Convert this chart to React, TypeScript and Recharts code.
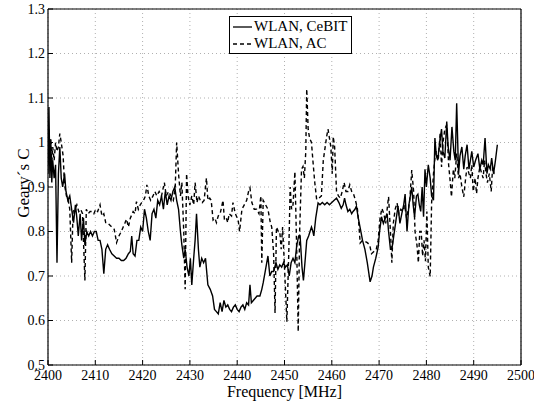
import React from "react";
import { LineChart, Line, XAxis, YAxis, CartesianGrid, Legend } from "recharts";

const xTicks = [2400, 2410, 2420, 2430, 2440, 2450, 2460, 2470, 2480, 2490, 2500];
const yTicks = [0.5, 0.6, 0.7, 0.8, 0.9, 1.0, 1.1, 1.2, 1.3];
const yTickLabels = ["0.5", "0.6", "0.7", "0.8", "0.9", "1", "1.1", "1.2", "1.3"];

const cebitName = "WLAN, CeBIT";
const acName = "WLAN, AC";

const cebitFreq = [
  2400.0, 2400.2, 2400.4, 2400.6, 2400.8, 2401.0, 2401.3, 2401.6, 2401.9, 2402.2,
  2402.5, 2402.8, 2403.1, 2403.5, 2403.8, 2404.2, 2404.6, 2405.0, 2405.4, 2405.8,
  2406.1, 2406.4, 2406.8, 2407.1, 2407.5, 2407.8, 2408.2, 2408.6, 2409.0, 2409.4,
  2409.8, 2410.2, 2410.6, 2411.0, 2411.4, 2411.8, 2412.2, 2412.6, 2413.0, 2413.5,
  2414.0, 2414.5, 2415.0, 2415.5, 2416.0, 2416.5, 2417.0, 2417.4, 2417.7, 2418.0,
  2418.4, 2418.8, 2419.2, 2419.6, 2420.0, 2420.4, 2420.8, 2421.2, 2421.6, 2422.0,
  2422.4, 2422.8, 2423.2, 2423.6, 2424.0, 2424.4, 2424.8, 2425.2, 2425.6, 2426.0,
  2426.4, 2426.8, 2427.2, 2427.6, 2428.0, 2428.3, 2428.7, 2429.0, 2429.4, 2429.8,
  2430.1, 2430.4, 2430.8, 2431.1, 2431.4, 2431.8, 2432.1, 2432.5, 2432.9, 2433.3,
  2433.8, 2434.3, 2434.8, 2435.2, 2435.6, 2436.0, 2436.4, 2436.8, 2437.2, 2437.6,
  2438.0, 2438.4, 2438.8, 2439.2, 2439.6, 2440.0, 2440.4, 2440.8, 2441.2, 2441.6,
  2442.0, 2442.4, 2442.7, 2443.0, 2443.4, 2443.8, 2444.2, 2444.8, 2445.2, 2445.5,
  2446.0, 2446.5, 2446.9, 2447.3, 2447.7, 2448.2, 2448.6, 2449.0, 2449.4, 2449.8,
  2450.2, 2450.6, 2451.0, 2451.4, 2451.8, 2452.2, 2452.6, 2453.0, 2453.3, 2453.7,
  2454.0, 2454.4, 2454.7, 2455.1, 2455.4, 2455.7, 2456.0, 2456.2, 2456.6, 2457.1,
  2457.5, 2458.0, 2458.5, 2459.0, 2459.5, 2460.0, 2460.5, 2461.0, 2461.5, 2462.0,
  2462.4, 2462.7, 2463.0, 2463.4, 2463.8, 2464.2, 2464.5, 2464.9, 2465.2, 2465.6,
  2466.0, 2466.5, 2467.0, 2467.5, 2468.1, 2468.5, 2468.8, 2469.3, 2469.8, 2470.1,
  2470.5, 2470.9, 2471.3, 2471.7, 2472.0, 2472.4, 2472.7, 2473.1, 2473.5, 2474.0,
  2474.4, 2474.8, 2475.2, 2475.5, 2475.9, 2476.3, 2476.6, 2476.9, 2477.2, 2477.5,
  2477.9, 2478.2, 2478.5, 2478.8, 2479.1, 2479.4, 2479.7, 2480.0, 2480.4, 2480.8,
  2481.1, 2481.5, 2481.8, 2482.1, 2482.4, 2482.8, 2483.2, 2483.5, 2483.9, 2484.3,
  2484.6, 2485.0, 2485.4, 2485.8, 2486.1, 2486.4, 2486.8, 2487.1, 2487.5, 2487.9,
  2488.2, 2488.6, 2489.0, 2489.3, 2489.6, 2490.0, 2490.4, 2490.9, 2491.3, 2491.7,
  2492.0, 2492.4, 2492.8, 2493.1, 2493.5, 2493.8, 2494.2, 2494.6, 2495.0,
];
const cebitVal = [
  0.93, 1.08, 0.92, 1.0, 0.91, 0.96, 0.92, 0.95, 0.73, 0.93,
  0.99, 0.92, 0.9, 0.93, 0.89, 0.87, 0.88, 0.85, 0.82, 0.86,
  0.83, 0.79, 0.84, 0.78, 0.83, 0.77, 0.8, 0.79, 0.8, 0.79,
  0.8, 0.8, 0.78, 0.78, 0.76, 0.705, 0.76, 0.77, 0.76, 0.75,
  0.745, 0.74, 0.74, 0.735, 0.735, 0.74, 0.75, 0.755, 0.79, 0.75,
  0.745, 0.78, 0.78, 0.81, 0.8, 0.85, 0.83, 0.8, 0.78, 0.84,
  0.85, 0.83, 0.87, 0.86, 0.88, 0.85, 0.89, 0.86, 0.88, 0.87,
  0.89, 0.9, 0.87, 0.85, 0.8, 0.77, 0.74, 0.76, 0.72, 0.7,
  0.74, 0.68, 0.74, 0.78, 0.84, 0.76, 0.72, 0.74, 0.73, 0.74,
  0.68, 0.67, 0.655, 0.625, 0.62, 0.615, 0.64, 0.62, 0.645, 0.63,
  0.635, 0.625, 0.62, 0.63, 0.635, 0.625, 0.62, 0.63, 0.635, 0.625,
  0.64, 0.635, 0.68, 0.64, 0.645, 0.65, 0.655, 0.655, 0.67, 0.685,
  0.715, 0.745, 0.7, 0.71, 0.71, 0.73, 0.715, 0.725, 0.72, 0.73,
  0.72, 0.725, 0.7, 0.73, 0.74, 0.73, 0.77, 0.79, 0.79, 0.72,
  0.69, 0.74, 0.78, 0.79, 0.8, 0.81, 0.8, 0.79, 0.83, 0.864,
  0.86, 0.865, 0.86, 0.865, 0.86, 0.865, 0.87, 0.875, 0.865, 0.852,
  0.86, 0.875, 0.86, 0.845, 0.85, 0.84, 0.845, 0.85, 0.857, 0.83,
  0.808, 0.78, 0.76, 0.73, 0.687, 0.7, 0.72, 0.74, 0.765, 0.8,
  0.833, 0.818, 0.83, 0.84, 0.8, 0.76, 0.76, 0.79, 0.82, 0.857,
  0.818, 0.84, 0.86, 0.884, 0.8, 0.86, 0.88, 0.9, 0.86, 0.833,
  0.88, 0.884, 0.86, 0.845, 0.9, 0.833, 0.94, 0.9, 0.95, 0.92,
  0.88, 0.87, 1.01, 0.97, 0.96, 1.0, 1.03, 0.98, 0.965, 1.047,
  0.99, 0.96, 1.035, 0.98, 0.96, 1.088, 0.93, 0.97, 0.99, 0.94,
  0.97, 0.995, 0.94, 0.96, 0.98, 0.945, 0.96, 0.975, 0.94, 0.96,
  0.95, 1.01, 0.93, 0.95, 0.94, 0.965, 0.93, 0.96, 0.995,
];

const acFreq = [
  2400.0, 2400.2, 2400.4, 2400.6, 2400.8, 2401.0, 2401.3, 2401.6, 2401.9, 2402.2,
  2402.5, 2402.8, 2403.2, 2403.5, 2403.9, 2404.2, 2404.6, 2405.0, 2405.3, 2405.7,
  2406.1, 2406.5, 2406.9, 2407.3, 2407.8, 2408.1, 2408.5, 2408.9, 2409.3, 2409.7,
  2410.1, 2410.5, 2411.0, 2411.4, 2411.8, 2412.2, 2412.6, 2413.0, 2413.5, 2414.0,
  2414.5, 2415.0, 2415.5, 2415.9, 2416.3, 2416.6, 2417.0, 2417.4, 2418.0, 2418.4,
  2418.7, 2419.1, 2419.5, 2419.8, 2420.2, 2420.6, 2420.9, 2421.3, 2421.7, 2422.2,
  2422.6, 2423.0, 2423.5, 2424.0, 2424.6, 2425.0, 2425.5, 2426.0, 2426.5, 2426.9,
  2427.2, 2427.6, 2428.0, 2428.3, 2428.7, 2429.0, 2429.3, 2429.6, 2430.0, 2430.4,
  2430.8, 2431.1, 2431.5, 2431.8, 2432.2, 2432.6, 2433.0, 2433.5, 2433.8, 2434.2,
  2434.5, 2434.9, 2435.3, 2435.6, 2436.0, 2436.4, 2437.0, 2437.3, 2437.7, 2438.0,
  2438.3, 2438.8, 2439.1, 2439.6, 2440.2, 2440.5, 2441.0, 2441.5, 2442.0, 2442.4,
  2442.7, 2443.1, 2443.6, 2444.1, 2444.6, 2445.0, 2445.2, 2445.5, 2446.0, 2446.5,
  2447.0, 2447.3, 2447.7, 2448.0, 2448.3, 2448.7, 2449.0, 2449.3, 2449.6, 2450.0,
  2450.5, 2450.9, 2451.2, 2451.5, 2451.8, 2452.2, 2452.6, 2452.9, 2453.2, 2453.6,
  2453.9, 2454.2, 2454.5, 2454.7, 2455.0, 2455.3, 2455.7, 2456.0, 2456.4, 2456.8,
  2457.3, 2457.8, 2458.2, 2458.6, 2458.9, 2459.2, 2459.5, 2459.8, 2460.1, 2460.3,
  2460.6, 2461.0, 2461.4, 2461.8, 2462.2, 2462.6, 2463.0, 2463.4, 2463.8, 2464.2,
  2464.6, 2465.0, 2465.4, 2465.7, 2466.0, 2466.5, 2467.0, 2467.5, 2468.0, 2468.4,
  2468.9, 2469.4, 2469.8, 2470.2, 2470.6, 2471.0, 2471.4, 2471.7, 2472.0, 2472.4,
  2472.7, 2473.0, 2473.4, 2473.8, 2474.2, 2474.6, 2475.0, 2475.4, 2475.8, 2476.2,
  2476.5, 2476.9, 2477.3, 2477.6, 2478.0, 2478.3, 2478.6, 2478.9, 2479.2, 2479.5,
  2479.8, 2480.1, 2480.4, 2480.8, 2481.1, 2481.5, 2481.8, 2482.1, 2482.5, 2482.9,
  2483.2, 2483.5, 2483.9, 2484.3, 2484.7, 2485.0, 2485.3, 2485.7, 2486.0, 2486.4,
  2486.8, 2487.1, 2487.5, 2487.9, 2488.3, 2488.6, 2489.0, 2489.3, 2489.6, 2489.9,
  2490.3, 2490.6, 2490.9, 2491.3, 2491.7, 2492.0, 2492.3, 2492.6, 2492.9, 2493.3,
  2493.7, 2494.0, 2494.3, 2494.6,
];
const acVal = [
  0.95, 1.03, 0.96, 1.01, 0.95, 0.99, 0.96, 1.0, 0.98, 0.99,
  1.02, 1.0, 0.97, 0.905, 0.88, 0.875, 0.85, 0.73, 0.845, 0.85,
  0.86, 0.845, 0.85, 0.84, 0.69, 0.85, 0.84, 0.845, 0.845, 0.84,
  0.85, 0.845, 0.86, 0.835, 0.84, 0.82, 0.82, 0.815, 0.81, 0.805,
  0.775, 0.79, 0.8, 0.81, 0.82, 0.828, 0.81, 0.83, 0.845, 0.84,
  0.867, 0.85, 0.86, 0.865, 0.87, 0.88, 0.905, 0.88, 0.87, 0.88,
  0.89, 0.88, 0.89, 0.88, 0.91, 0.88, 0.89, 0.88, 0.87, 0.9,
  1.0, 0.93, 0.88, 0.91, 0.8, 0.67, 0.93, 0.88, 0.86, 0.88,
  0.86, 0.91, 0.865, 0.88, 0.87, 0.865, 0.87, 0.92, 0.87, 0.875,
  0.87, 0.826, 0.83, 0.82, 0.835, 0.84, 0.87, 0.826, 0.83, 0.82,
  0.84, 0.835, 0.865, 0.84, 0.826, 0.8, 0.85, 0.86, 0.87, 0.89,
  0.898, 0.865, 0.85, 0.85, 0.84, 0.88, 0.73, 0.87, 0.86, 0.85,
  0.82, 0.81, 0.75, 0.617, 0.81, 0.8, 0.8, 0.76, 0.81, 0.72,
  0.597, 0.75, 0.9, 0.85, 0.86, 0.934, 0.75, 0.575, 0.8, 0.94,
  0.946, 0.92, 0.98, 1.12, 1.03, 1.01, 1.0, 0.96, 0.91, 0.872,
  0.875, 0.88, 0.96, 0.99, 1.013, 1.03, 1.01, 0.99, 0.93, 1.013,
  0.99, 0.89, 0.88, 0.875, 0.89, 0.91, 0.89, 0.89, 0.905, 0.89,
  0.884, 0.87, 0.852, 0.818, 0.774, 0.78, 0.778, 0.775, 0.77, 0.75,
  0.755, 0.76, 0.78, 0.83, 0.852, 0.84, 0.818, 0.85, 0.878, 0.8,
  0.73, 0.818, 0.85, 0.864, 0.84, 0.85, 0.845, 0.86, 0.83, 0.85,
  0.872, 0.938, 0.89, 0.8, 0.77, 0.73, 0.8, 0.8, 0.745, 0.78,
  0.733, 0.845, 0.72, 0.699, 0.864, 0.93, 0.965, 0.98, 0.96, 1.02,
  0.945, 1.0, 1.03, 1.04, 0.95, 0.916, 0.878, 0.94, 0.92, 0.975,
  0.92, 0.93, 0.9, 0.878, 0.92, 0.945, 0.93, 0.92, 0.95, 0.89,
  0.92, 0.885, 0.92, 0.945, 0.93, 0.92, 0.96, 0.93, 0.91, 0.93,
  0.89, 0.945, 0.93, 0.93,
];

const cebitData = cebitFreq.map((f, i) => ({ f, v: cebitVal[i] }));
const acData = acFreq.map((f, i) => ({ f, v: acVal[i] }));

const FONT = "'Liberation Serif', 'Times New Roman', serif";

const LegendBox = () => (
  <div
    style={{
      border: "1px solid #000",
      background: "#fff",
      fontFamily: FONT,
      fontSize: 15,
      lineHeight: "17px",
      padding: "1px 4px 1px 2px",
      color: "#000",
      whiteSpace: "nowrap",
    }}
  >
    {[
      { name: cebitName, dash: undefined as string | undefined },
      { name: acName, dash: "4 3" },
    ].map((it) => (
      <div key={it.name} style={{ display: "flex", alignItems: "center" }}>
        <svg width={21} height={10} style={{ marginRight: 1 }}>
          <line x1={1} y1={5} x2={20} y2={5} stroke="#000" strokeWidth={1.3} strokeDasharray={it.dash} />
        </svg>
        <span>{it.name}</span>
      </div>
    ))}
  </div>
);

const tickStyle = { fontFamily: FONT, fontSize: 14, fill: "#000" };

export default function App() {
  return (
    <div style={{ position: "absolute", left: 0, top: 0, background: "#fff", fontFamily: FONT }}>
      <LineChart
        width={534}
        height={403}
        margin={{ top: 8, right: 12, bottom: 37, left: 47 }}
        style={{ fontFamily: FONT }}
      >
        <CartesianGrid stroke="#b0b0b0" strokeDasharray="1 3" xAxisId="b" yAxisId="l" />
        <XAxis
          xAxisId="b"
          dataKey="f"
          type="number"
          domain={[2400, 2500]}
          ticks={xTicks}
          height={1}
          tickSize={-5}
          tickMargin={10}
          tick={tickStyle}
          axisLine={{ stroke: "#000", strokeWidth: 1.2 }}
          tickLine={{ stroke: "#000" }}
          allowDataOverflow
          interval={0}
          label={{ value: "Frequency [MHz]", position: "insideBottom", offset: -31, style: { fontFamily: FONT, fontSize: 16, fill: "#000" } }}
        />
        <XAxis
          xAxisId="t"
          dataKey="f"
          type="number"
          orientation="top"
          domain={[2400, 2500]}
          ticks={xTicks}
          height={1}
          tickSize={-5}
          tick={false}
          axisLine={{ stroke: "#000", strokeWidth: 1.2 }}
          tickLine={{ stroke: "#000" }}
          allowDataOverflow
        />
        <YAxis
          yAxisId="l"
          type="number"
          domain={[0.5, 1.3]}
          ticks={yTicks}
          width={1}
          tickSize={-5}
          tickMargin={8}
          interval={0}
          tick={tickStyle}
          tickFormatter={(v: number) => yTickLabels[yTicks.indexOf(v)] ?? String(v)}
          axisLine={{ stroke: "#000", strokeWidth: 1.2 }}
          tickLine={{ stroke: "#000" }}
          allowDataOverflow
          label={{ value: "Geary\u00b4s C", angle: -90, position: "insideLeft", offset: -24, dy: -4, style: { fontFamily: FONT, fontSize: 17, fill: "#000", textAnchor: "middle" } }}
        />
        <YAxis
          yAxisId="r"
          type="number"
          orientation="right"
          domain={[0.5, 1.3]}
          ticks={yTicks}
          width={1}
          tickSize={-5}
          tick={false}
          axisLine={{ stroke: "#000", strokeWidth: 1.2 }}
          tickLine={{ stroke: "#000" }}
          allowDataOverflow
        />
        <Legend
          layout="horizontal"
          verticalAlign="middle"
          align="center"
          content={() => <LegendBox />}
          wrapperStyle={{ left: 229, top: 16, width: "auto", height: "auto" }}
        />
        <Line
          xAxisId="b"
          yAxisId="l"
          data={cebitData}
          dataKey="v"
          name={cebitName}
          stroke="#000"
          strokeWidth={1.4}
          dot={false}
          isAnimationActive={false}
        />
        <Line
          xAxisId="b"
          yAxisId="l"
          data={acData}
          dataKey="v"
          name={acName}
          stroke="#000"
          strokeWidth={1.4}
          strokeDasharray="4 3"
          dot={false}
          isAnimationActive={false}
        />
        <Line
          xAxisId="t"
          yAxisId="r"
          data={acData}
          dataKey="v"
          stroke="none"
          legendType="none"
          dot={false}
          activeDot={false}
          isAnimationActive={false}
        />
      </LineChart>
    </div>
  );
}
